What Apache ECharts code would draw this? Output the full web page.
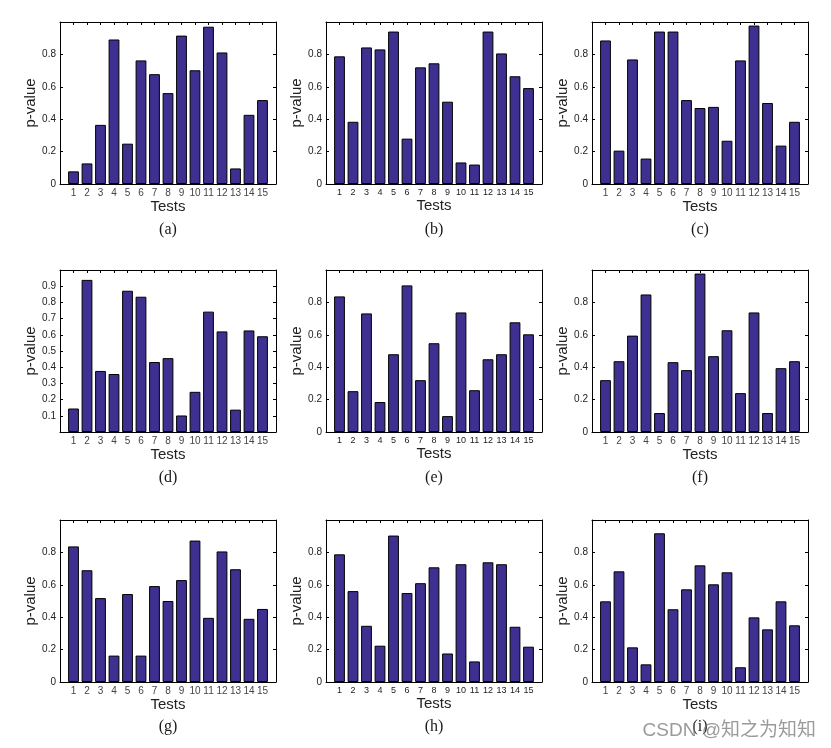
<!DOCTYPE html>
<html><head><meta charset="utf-8">
<script src="https://cdn.jsdelivr.net/npm/echarts@6/dist/echarts.min.js"></script>
<style>html,body{margin:0;padding:0;background:#fff}#c{width:831px;height:748px}</style>
</head><body><div id="c"></div>
<script>
// ---- data ----
const tests = [1, 2, 3, 4, 5, 6, 7, 8, 9, 10, 11, 12, 13, 14, 15];
const panelNames = ['(a)', '(b)', '(c)', '(d)', '(e)', '(f)', '(g)', '(h)', '(i)'];
const pA = [0.078, 0.127, 0.365, 0.892, 0.249, 0.763, 0.678, 0.561, 0.916, 0.702, 0.971, 0.812, 0.096, 0.427, 0.518];
const pB = [0.788, 0.384, 0.843, 0.831, 0.941, 0.280, 0.720, 0.745, 0.508, 0.133, 0.120, 0.941, 0.806, 0.665, 0.592];
const pC = [0.886, 0.206, 0.769, 0.157, 0.941, 0.941, 0.518, 0.469, 0.476, 0.267, 0.763, 0.978, 0.500, 0.237, 0.384];
const pD = [0.145, 0.939, 0.377, 0.358, 0.872, 0.835, 0.432, 0.456, 0.102, 0.248, 0.743, 0.621, 0.138, 0.627, 0.591];
const pE = [0.837, 0.252, 0.732, 0.185, 0.480, 0.905, 0.320, 0.548, 0.098, 0.738, 0.258, 0.449, 0.480, 0.677, 0.603];
const pF = [0.320, 0.437, 0.595, 0.849, 0.117, 0.431, 0.382, 0.978, 0.468, 0.628, 0.240, 0.738, 0.117, 0.394, 0.437];
const pG = [0.837, 0.690, 0.518, 0.163, 0.543, 0.163, 0.592, 0.500, 0.629, 0.873, 0.396, 0.806, 0.696, 0.390, 0.451];
const pH = [0.788, 0.561, 0.347, 0.224, 0.904, 0.549, 0.610, 0.708, 0.176, 0.727, 0.127, 0.739, 0.727, 0.341, 0.218];
const pI = [0.498, 0.683, 0.214, 0.109, 0.918, 0.449, 0.572, 0.720, 0.603, 0.677, 0.091, 0.399, 0.325, 0.498, 0.350];
const yTickLabelsStd = ['0', '0.2', '0.4', '0.6', '0.8'];
const yTickLabelsD = ['0.1', '0.2', '0.3', '0.4', '0.5', '0.6', '0.7', '0.8', '0.9'];
const xName = 'Tests';
const yName = 'p-value';
const watermark = 'CSDN @知之为知知';

const panels = [pA, pB, pC, pD, pE, pF, pG, pH, pI];
const yTickSets = [yTickLabelsStd, yTickLabelsStd, yTickLabelsStd, yTickLabelsD, yTickLabelsStd, yTickLabelsStd, yTickLabelsStd, yTickLabelsStd, yTickLabelsStd];
const yIntervals = [0.2, 0.2, 0.2, 0.1, 0.2, 0.2, 0.2, 0.2, 0.2];

// ---- layout ----
const colLeft = [60, 326, 592], rowTop = [22, 270, 520], W = 216, H = 162;
const capY = [230, 478, 727];
const sans = 'Liberation Sans, Arial, Helvetica, sans-serif';
const barColor = '#3e3090';

const grids = [], xAxes = [], yAxes = [], series = [], graphics = [];
panels.forEach((vals, i) => {
  const r = Math.floor(i / 3), c = i % 3;
  grids.push({ left: colLeft[c], top: rowTop[r], width: W, height: H });
  const line = { show: true, onZero: false, lineStyle: { color: '#000', width: 1 } };
  const tick = { show: true, inside: true, length: 3, lineStyle: { color: '#000', width: 1 } };
  const labFs = c === 1 ? 9 : 10;
  xAxes.push({
    type: 'value', gridIndex: i, position: 'bottom', min: 0, max: 16, interval: 1,
    axisLine: line, axisTick: tick, splitLine: { show: false },
    axisLabel: { margin: 4, fontSize: labFs, color: c === 1 ? '#222' : '#444', fontFamily: sans,
      formatter: v => tests.includes(v) ? String(v) : '' },
    name: xName, nameLocation: 'middle', nameGap: 14,
    nameTextStyle: { fontSize: 15, color: '#222', fontFamily: sans }
  });
  xAxes.push({
    type: 'value', gridIndex: i, position: 'top', min: 0, max: 16, interval: 1,
    axisLine: line, axisTick: tick, splitLine: { show: false }, axisLabel: { show: false }
  });
  const labs = yTickSets[i];
  yAxes.push({
    type: 'value', gridIndex: i, position: 'left', min: 0, max: 1, interval: yIntervals[i],
    axisLine: line, axisTick: tick, splitLine: { show: false },
    axisLabel: { margin: 4, fontSize: 10, color: '#222', fontFamily: sans,
      formatter: v => { const s = String(+(+v).toFixed(2)); return labs.includes(s) ? s : ''; } },
    name: yName, nameLocation: 'middle', nameGap: 21,
    nameTextStyle: { fontSize: 15, color: '#222', fontFamily: sans }
  });
  yAxes.push({
    type: 'value', gridIndex: i, position: 'right', min: 0, max: 1, interval: yIntervals[i],
    axisLine: line, axisTick: tick, splitLine: { show: false }, axisLabel: { show: false }
  });
  series.push({
    type: 'bar', xAxisIndex: 2 * i, yAxisIndex: 2 * i,
    data: tests.map((t, k) => [t, vals[k]]),
    barWidth: W / 16 * 0.8,
    itemStyle: { color: barColor, borderColor: '#000', borderWidth: 1 },
    silent: true
  });
  graphics.push({
    type: 'text', x: colLeft[c] + W / 2, y: capY[r],
    style: { text: panelNames[i], fontSize: 16, fontFamily: 'Liberation Serif, Times New Roman, serif',
      fill: '#1a1a1a', textAlign: 'center', textVerticalAlign: 'middle' }
  });
});
graphics.push({
  type: 'text', x: 816, y: 731, z: 100,
  style: { text: watermark, fontSize: 19, fontFamily: 'Liberation Sans, Noto Sans CJK SC, sans-serif',
    fill: 'rgba(120,120,120,0.75)', textAlign: 'right', textVerticalAlign: 'middle' }
});

const chart = echarts.init(document.getElementById('c'), null, { renderer: 'canvas' });
chart.setOption({
  animation: false,
  backgroundColor: '#fff',
  grid: grids, xAxis: xAxes, yAxis: yAxes, series: series, graphic: graphics
});
</script></body></html>
